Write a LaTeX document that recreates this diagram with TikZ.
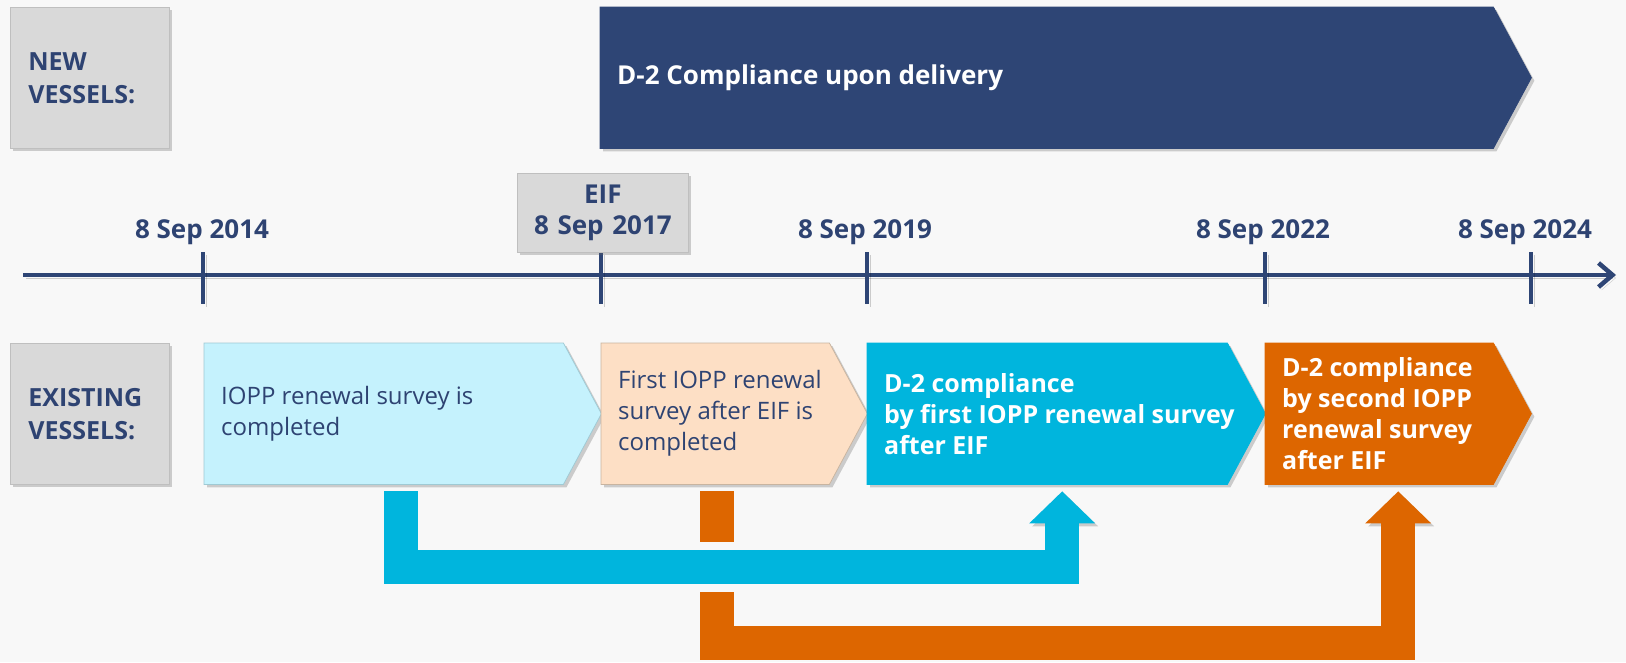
\documentclass[tikz,border=0pt]{standalone}
\usepackage{fontspec}
\setmainfont{Open Sans}
\usepackage{tikz}
\usetikzlibrary{positioning,arrows.meta,calc,backgrounds,shadows}

\definecolor{pagebg}{HTML}{F8F8F8}
\definecolor{navy}{HTML}{2E4575}
\definecolor{navytext}{HTML}{2E4372}
\definecolor{labelgray}{HTML}{D9D9D9}
\definecolor{labelline}{HTML}{BFBFBF}
\definecolor{paleblue}{HTML}{C5F2FD}
\definecolor{paleblueline}{HTML}{9FCAD4}
\definecolor{peach}{HTML}{FDDFC5}
\definecolor{peachline}{HTML}{C8B4A0}
\definecolor{cyanfill}{HTML}{00B5DD}
\definecolor{orangefill}{HTML}{DD6600}

\tikzset{
  boxshadow/.style={drop shadow={shadow xshift=3pt, shadow yshift=-3pt, opacity=0.3, fill=black!60}},
  softshadow/.style={preaction={draw=black, draw opacity=0.18, fill opacity=0.18, transform canvas={shift={(3pt,-3pt)}}}},
  halo/.style={preaction={draw=pagebg, line width=50pt}},
}

\begin{document}
\begin{tikzpicture}[x=1pt, y=-1pt,
  rowlabel/.style={rectangle, anchor=north west, fill=labelgray, draw=labelline, line width=0.75pt,
    minimum width=159pt, minimum height=141pt, inner xsep=18pt, text width=123pt, align=left,
    font=\bfseries\fontsize{25}{33}\selectfont, text=navytext, boxshadow},
  stagebox/.style={rectangle, anchor=north west, inner sep=0pt, minimum height=141pt},
  stagetext/.style={align=left, inner sep=0pt, font=\fontsize{24}{31}\selectfont, text=navytext},
  boldtext/.style={align=left, inner sep=0pt, font=\bfseries\fontsize{25}{31}\selectfont, text=white},
  datelabel/.style={anchor=base, font=\bfseries\fontsize{26}{31}\selectfont, text=navytext},
  timeaxis/.style={line width=4.5pt, draw=navy, softshadow},
  flow/.style={line width=34pt, -{Triangle[length=32pt, width=66pt, line width=0pt]}},
]

\useasboundingbox (0,0) rectangle (1626,662);
\begin{scope}[on background layer]
  \fill[pagebg] (0,0) rectangle (1626,662);
\end{scope}

% row labels
\node[rowlabel] (newlbl) at (10,7) {NEW\\VESSELS:};
\node[rowlabel] (oldlbl) at (10,343) {EXISTING\\VESSELS:};

% stage boxes
\node[stagebox, minimum width=893pt] (delivery) at (600,7) {};
\node[stagebox, minimum width=359pt] (renew) at (204,343) {};
\node[stagebox, minimum width=228pt] (first) at (601,343) {};
\node[stagebox, minimum width=360pt] (comply) at (867,343) {};
\node[stagebox, minimum width=228pt] (second) at (1265,343) {};

\node[boldtext, font=\bfseries\fontsize{26}{31}\selectfont, right=17pt of delivery.west] (deliverytxt) {D-2 Compliance upon delivery};
\node[stagetext, right=17pt of renew.west] (renewtxt) {IOPP renewal survey is\\completed};
\node[stagetext, right=17pt of first.west] (firsttxt) {First IOPP renewal\\survey after EIF is\\completed};
\node[boldtext, right=17pt of comply.west] (complytxt) {D-2 compliance\\by first IOPP renewal survey\\after EIF};
\node[boldtext, right=17pt of second.west] (secondtxt) {D-2 compliance\\by second IOPP\\renewal survey\\after EIF};

% pointed outlines behind the boxes
\begin{scope}[on background layer]
  \foreach \stage/\fillc/\linec in {delivery/navy/navy, renew/paleblue/paleblueline,
      first/peach/peachline, comply/cyanfill/cyanfill, second/orangefill/orangefill} {
    \filldraw[fill=\fillc, draw=\linec, line width=0.75pt, boxshadow]
      (\stage.north west) -- (\stage.north east) -- ($(\stage.east)+(38,0)$)
      -- (\stage.south east) -- (\stage.south west) -- cycle;
  }
\end{scope}

% time axis
\coordinate (axisstart) at (23,275);
\coordinate (axisend) at (1616,275);
\draw[timeaxis, -{Straight Barb[length=14pt, width=24pt]}] (axisstart) -- (axisend);
\foreach \x/\name in {203/t14, 601/t17, 867/t19, 1265/t22, 1531/t24} {
  \coordinate (\name) at (\x,275);
  \draw[timeaxis] ([shift={(0,-23)}]\name) -- ([shift={(0,29)}]\name);
}

% dates
\node[datelabel] (d14) at (202,238) {8 Sep 2014};
\node[datelabel] (d19) at (865,238) {8 Sep 2019};
\node[datelabel] (d22) at (1263,238) {8 Sep 2022};
\node[datelabel] (d24) at (1525,238) {8 Sep 2024};
\node[rowlabel, minimum width=171pt, minimum height=79pt, inner xsep=4pt, text width=163pt, align=center,
  font=\bfseries\fontsize{26}{31}\selectfont] (eif) at (517,173) {EIF\\8 Sep 2017};

% flows between surveys
\draw[flow, orangefill, softshadow] ([shift={(2,7)}]first.south) -- ++(0,152) -| ([shift={(19,7)}]second.south);
\draw[flow, cyanfill, halo, softshadow] ([shift={(17,7)}]renew.south) -- ++(0,76) -| ([shift={(15,7)}]comply.south);

\end{tikzpicture}
\end{document}
